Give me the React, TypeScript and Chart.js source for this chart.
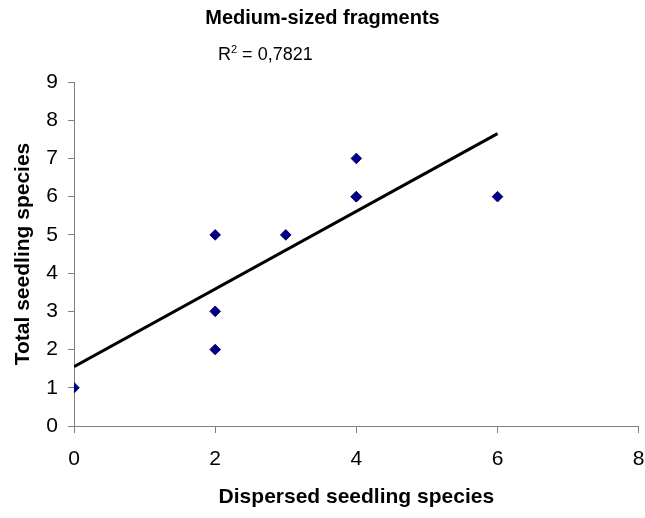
import React, { useEffect, useRef } from "react";
import { Chart, registerables } from "chart.js";

Chart.register(...registerables);

// ---- data ----
const TITLE = "Medium-sized fragments";
const X_TITLE = "Dispersed seedling species";
const Y_TITLE = "Total seedling species";
const R2_VALUE = "0,7821";

const dispersed = [0, 2, 2, 2, 3, 4, 4, 4, 6];
const totalSpecies = [1, 2, 3, 5, 5, 6, 6, 7, 6];

const trendX = [0, 6];
const trendY = [1.55, 7.65];

const X_MIN = 0;
const X_MAX = 8;
const X_STEP = 2;
const Y_MIN = 0;
const Y_MAX = 9;
const Y_STEP = 1;

const FONT = '"Liberation Sans", Arial, Helvetica, sans-serif';
const AXIS_GRAY = "#808080";

const r2Plugin = {
  id: "r2Label",
  afterDatasetsDraw(chart: any) {
    const { ctx, chartArea } = chart;
    ctx.save();
    ctx.fillStyle = "#000";
    ctx.textAlign = "left";
    ctx.textBaseline = "alphabetic";
    let x = chartArea.left + 144;
    const y = chartArea.top - 22.5;
    ctx.font = `18px ${FONT}`;
    ctx.fillText("R", x, y);
    x += ctx.measureText("R").width;
    ctx.font = `11px ${FONT}`;
    ctx.fillText("2", x, y - 7);
    x += ctx.measureText("2").width;
    ctx.font = `18px ${FONT}`;
    ctx.fillText(" = " + R2_VALUE, x, y);
    ctx.restore();
  },
};

export default function App() {
  const canvasRef = useRef<HTMLCanvasElement | null>(null);

  useEffect(() => {
    if (!canvasRef.current) return;
    const points = dispersed.map((x, i) => ({ x, y: totalSpecies[i] }));
    const trend = trendX.map((x, i) => ({ x, y: trendY[i] }));

    const chart = new Chart(canvasRef.current, {
      type: "scatter",
      data: {
        datasets: [
          {
            type: "line",
            label: "Trend",
            data: trend,
            borderColor: "#000",
            borderWidth: 3,
            pointRadius: 0,
            fill: false,
            tension: 0,
          },
          {
            label: "Data",
            data: points,
            pointStyle: "rectRot",
            pointRadius: 5.3,
            pointBackgroundColor: "#000080",
            pointBorderColor: "#000080",
            pointBorderWidth: 1,
          },
        ],
      },
      options: {
        animation: false,
        responsive: true,
        maintainAspectRatio: false,
        layout: { padding: { left: 0, right: 0, top: 0, bottom: 0 } },
        plugins: {
          legend: { display: false },
          tooltip: { enabled: false },
          title: {
            display: true,
            text: TITLE,
            color: "#000",
            font: { family: FONT, size: 20, weight: "bold" },
            padding: { top: 6, bottom: 52 },
          },
        },
        scales: {
          x: {
            type: "linear",
            min: X_MIN,
            max: X_MAX,
            ticks: {
              stepSize: X_STEP,
              color: "#000",
              font: { family: FONT, size: 21 },
              padding: 14,
              maxRotation: 0,
            },
            grid: {
              drawOnChartArea: false,
              drawTicks: true,
              tickLength: 7,
              color: AXIS_GRAY,
            },
            border: { color: AXIS_GRAY, width: 1 },
            title: {
              display: true,
              text: X_TITLE,
              color: "#000",
              font: { family: FONT, size: 21, weight: "bold" },
              padding: { top: 0, bottom: 8 },
            },
            afterFit: (scale: any) => {
              scale.height = 92;
              scale.paddingRight = 6;
              scale.paddingLeft = 0;
            },
          },
          y: {
            type: "linear",
            min: Y_MIN,
            max: Y_MAX,
            ticks: {
              stepSize: Y_STEP,
              color: "#000",
              font: { family: FONT, size: 21 },
              padding: 10,
            },
            grid: {
              drawOnChartArea: false,
              drawTicks: true,
              tickLength: 6,
              color: AXIS_GRAY,
            },
            border: { color: AXIS_GRAY, width: 1 },
            title: {
              display: true,
              text: Y_TITLE,
              color: "#000",
              font: { family: FONT, size: 21, weight: "bold" },
              padding: { top: 11, bottom: 0 },
            },
            afterFit: (scale: any) => {
              scale.width = 74;
            },
          },
        },
      },
      plugins: [r2Plugin],
    });

    return () => chart.destroy();
  }, []);

  return (
    <div style={{ position: "absolute", left: 0, top: 0, width: 645, height: 518 }}>
      <canvas ref={canvasRef} />
    </div>
  );
}
